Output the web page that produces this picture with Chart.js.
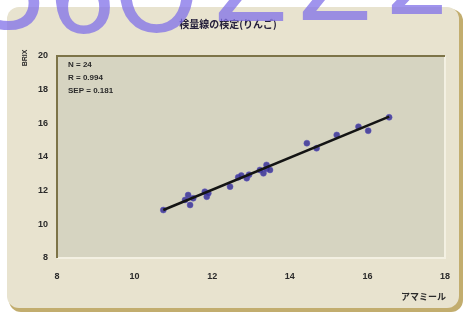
<!DOCTYPE html>
<html>
<head>
<meta charset="utf-8">
<script src="https://cdn.jsdelivr.net/npm/chart.js@4"></script>
<style>
    body { margin: 0; background: #ffffff; }
    #wrap { width: 466px; height: 314px; }
</style>
</head>
<body>
<div id="wrap"><canvas id="chart" width="466" height="314"></canvas></div>
<script>
// amamiru reading (x) vs measured BRIX (y), N = 24
const amamiru = [10.74, 11.30, 11.38, 11.43, 11.51, 11.81, 11.86, 11.90, 12.46, 12.67, 12.75, 12.89, 12.95,
    13.23, 13.32, 13.40, 13.40, 13.49, 14.44, 14.69, 15.21, 15.77, 16.02, 16.56];
const brix = [10.85, 11.45, 11.74, 11.15, 11.55, 11.94, 11.64, 11.85, 12.24, 12.79, 12.90, 12.74, 12.95,
    13.23, 13.03, 13.53, 13.30, 13.23, 14.82, 14.52, 15.31, 15.80, 15.56, 16.36];
const fitX = [10.74, 16.56];
const fitY = [10.85, 16.40];
const statLines = ['N = 24', 'R = 0.994', 'SEP = 0.181'];
const xRange = [8, 18];
const yRange = [8, 20];

const panel = {
    id: 'panel',
    beforeDraw(chart) {
        const ctx = chart.ctx;
        const a = chart.chartArea;
        ctx.save();
        // beige card
        ctx.fillStyle = '#c2ad6e';
        ctx.beginPath();
        ctx.roundRect(9, 9, 454, 303, 12);
        ctx.fill();
        ctx.fillStyle = '#e8e3cf';
        ctx.beginPath();
        ctx.roundRect(7, 7, 452, 301, 12);
        ctx.fill();
        // plot area
        ctx.fillStyle = '#d6d4c1';
        ctx.fillRect(a.left, a.top, a.right - a.left, a.bottom - a.top);
        ctx.strokeStyle = '#f3f0e2';
        ctx.lineWidth = 2;
        ctx.beginPath();
        ctx.moveTo(a.right, a.top);
        ctx.lineTo(a.right, a.bottom);
        ctx.lineTo(a.left, a.bottom);
        ctx.stroke();
        ctx.strokeStyle = '#7d7448';
        ctx.beginPath();
        ctx.moveTo(a.left, a.bottom);
        ctx.lineTo(a.left, a.top);
        ctx.lineTo(a.right, a.top);
        ctx.stroke();
        ctx.restore();
    },
    afterDraw(chart) {
        const ctx = chart.ctx;
        const a = chart.chartArea;
        ctx.save();
        ctx.fillStyle = '#2a2a2a';
        ctx.font = 'bold 8px "Liberation Sans", Arial, sans-serif';
        ctx.textBaseline = 'middle';
        statLines.forEach((s, i) => ctx.fillText(s, a.left + 11, a.top + 9 + i * 13));

        ctx.font = 'bold 10px "Noto Sans CJK JP", sans-serif';
        ctx.textAlign = 'center';
        ctx.fillStyle = '#26213c';
        ctx.fillText('検量線の検定(りんご)', 228, 24);

        ctx.font = 'bold 9px "Noto Sans CJK JP", sans-serif';
        ctx.textAlign = 'right';
        ctx.fillStyle = '#2a2a2a';
        ctx.fillText('アマミール', 446, 297);

        ctx.translate(25, 58);
        ctx.rotate(-Math.PI / 2);
        ctx.textAlign = 'center';
        ctx.font = 'bold 7px "Liberation Sans", Arial, sans-serif';
        ctx.fillText('BRIX', 0, 0);
        ctx.restore();

        // purple watermark along the top edge
        ctx.save();
        ctx.fillStyle = 'rgba(128, 112, 232, 0.75)';
        ctx.font = '108px "DejaVu Sans", sans-serif';
        ctx.textBaseline = 'alphabetic';
        [['5', -20, 28], ['6', 48, 32], ['O', 114, 31], ['Z', 214, 21], ['Z', 298, 20], ['2', 384, 14]]
            .forEach(([c, x, y]) => ctx.fillText(c, x, y));
        ctx.restore();
    }
};

const tickFont = { family: '"Liberation Sans", Arial, sans-serif', size: 9, weight: 'bold' };

new Chart(document.getElementById('chart'), {
    type: 'scatter',
    data: {
        datasets: [{
            type: 'line',
            data: fitX.map((x, i) => ({ x, y: fitY[i] })),
            borderColor: '#141414',
            borderWidth: 2.5,
            pointRadius: 0
        }, {
            data: amamiru.map((x, i) => ({ x, y: brix[i] })),
            backgroundColor: 'rgba(58, 50, 150, 0.85)',
            borderColor: 'rgba(90, 80, 190, 0.5)',
            borderWidth: 1,
            pointRadius: 3
        }]
    },
    plugins: [panel],
    options: {
        responsive: false,
        animation: false,
        layout: { padding: { left: 0, top: 56, right: 21, bottom: 0 } },
        plugins: {
            legend: { display: false },
            tooltip: { enabled: false }
        },
        scales: {
            x: {
                min: xRange[0],
                max: xRange[1],
                ticks: { stepSize: 2, color: '#2a2a2a', font: tickFont, padding: 13 },
                grid: { display: false, drawTicks: false },
                border: { display: false },
                afterFit: s => { s.height = 56; }
            },
            y: {
                min: yRange[0],
                max: yRange[1],
                ticks: { stepSize: 2, color: '#2a2a2a', font: tickFont, padding: 9 },
                grid: { display: false, drawTicks: false },
                border: { display: false },
                afterFit: s => { s.width = 57; }
            }
        }
    }
});
</script>
</body>
</html>
